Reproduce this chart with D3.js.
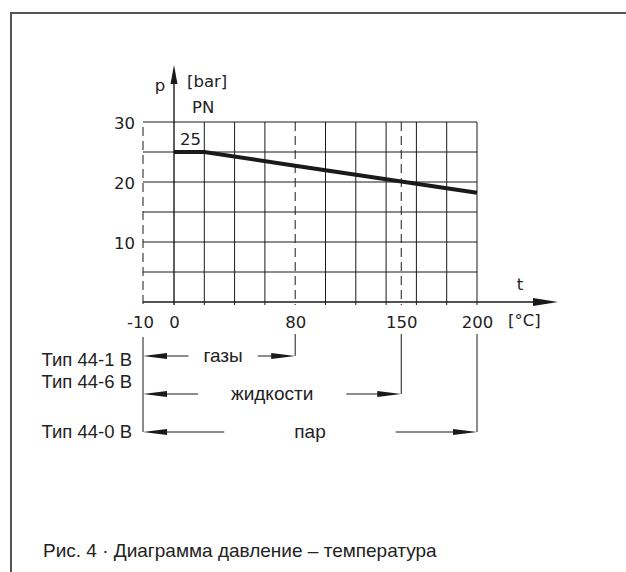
<!DOCTYPE html>
<html>
<head>
<meta charset="utf-8">
<script src="https://cdn.jsdelivr.net/npm/d3@7"></script>
<style>
  body { margin: 0; background: #fff; }
  svg { display: block; }
  .lbl { font-family: 'DejaVu Sans', sans-serif; font-size: 16.5px; fill: #222; }
  .txt { font-family: 'Liberation Sans', Arial, sans-serif; font-size: 19px; fill: #222; }
  .typ { font-size: 18.5px; }
</style>
</head>
<body>
<div id="svg_container"></div>
<script>
// data
const xTicks = [-10, 0, 80, 150, 200];
const yTicks = [10, 20, 30];
const gridT = [20, 40, 60, 100, 120, 140, 160, 180, 200];
const gridP = [5, 10, 15, 20, 25, 30];
const dashedT = [-10, 80, 150];
const curveT = [0, 20, 80, 150, 200];
const curveP = [25, 25, 22.7, 20.1, 18.2];
const rangeNames = ['газы', 'жидкости', 'пар'];
const rangeEnds = [80, 150, 200];
const typeLabels = ['Тип 44-1 B', 'Тип 44-6 B', 'Тип 44-0 B'];

const w = 626;
const h = 572;
const ink = '#1a1a1a';

// -10 is drawn one cell left of 0 (schematic, not to scale)
const xScale = d3.scaleLinear().domain([-10, 0, 200]).range([143, 174, 477]);
const yScale = d3.scaleLinear().domain([0, 30]).range([302, 122]);
const barY = d3.scalePoint().domain(rangeNames).range([356, 432]);
const labelY = [366, 388, 438];
const textPad = [15, 33, 70];

const svg = d3.select('#svg_container')
  .append('svg')
  .attr('width', w)
  .attr('height', h);

function arrowHead(g, x, y, dir, len, half) {
  // dir: 'right' | 'left' | 'up'
  let pts;
  if (dir === 'right') pts = [[x, y], [x - len, y - half], [x - len, y + half]];
  else if (dir === 'left') pts = [[x, y], [x + len, y - half], [x + len, y + half]];
  else pts = [[x, y], [x - half, y + len], [x + half, y + len]];
  g.append('path').attr('d', d3.line()(pts) + 'Z').attr('fill', ink);
}

function drawFrame() {
  svg.append('line').attr('x1', 10).attr('x2', w).attr('y1', 13).attr('y2', 13)
    .attr('stroke', '#555').attr('stroke-width', 2);
  svg.append('line').attr('x1', 11).attr('x2', 11).attr('y1', 13).attr('y2', h)
    .attr('stroke', '#555').attr('stroke-width', 2);
}

function drawGrid() {
  const g = svg.append('g');
  const y0 = yScale(0), yTop = yScale(30);

  g.selectAll('.hgrid').data(gridP).enter().append('line')
    .attr('x1', xScale(-10)).attr('x2', xScale(200))
    .attr('y1', d => yScale(d)).attr('y2', d => yScale(d))
    .attr('stroke', ink).attr('stroke-width', 1);

  g.selectAll('.vgrid').data(gridT).enter().append('line')
    .attr('x1', d => xScale(d)).attr('x2', d => xScale(d))
    .attr('y1', yTop).attr('y2', y0 + 3)
    .attr('stroke', ink).attr('stroke-width', 1);

  g.selectAll('.dgrid').data(dashedT).enter().append('line')
    .attr('x1', d => xScale(d)).attr('x2', d => xScale(d))
    .attr('y1', d => d === -10 ? yTop + 5 : yTop).attr('y2', y0 + 3)
    .attr('stroke', ink).attr('stroke-width', 1)
    .attr('stroke-dasharray', '9,5');
}

function drawAxes() {
  const g = svg.append('g');
  const y0 = yScale(0);

  // t axis with arrow
  g.append('line').attr('x1', xScale(-10)).attr('x2', 540).attr('y1', y0).attr('y2', y0)
    .attr('stroke', ink).attr('stroke-width', 1.4);
  arrowHead(g, 558, y0, 'right', 25, 4);

  // p axis with arrow
  g.append('line').attr('x1', xScale(0)).attr('x2', xScale(0)).attr('y1', y0 + 3).attr('y2', 80)
    .attr('stroke', ink).attr('stroke-width', 1.4);
  arrowHead(g, xScale(0), 65, 'up', 19, 3.5);

  const xa = svg.append('g')
    .attr('transform', `translate(0, ${y0})`)
    .call(d3.axisBottom(xScale).tickValues(xTicks).tickSize(0).tickPadding(10).tickFormat(d => String(d)));
  xa.select('.domain').remove();
  xa.selectAll('text').attr('class', 'lbl').attr('font-family', null).attr('font-size', null)
    .attr('dy', null).attr('y', 26).attr('dx', d => d === -10 ? -3 : 0);

  const ya = svg.append('g')
    .attr('transform', `translate(${xScale(-10)}, 0)`)
    .call(d3.axisLeft(yScale).tickValues(yTicks).tickSize(0).tickPadding(8));
  ya.select('.domain').remove();
  ya.selectAll('text').attr('class', 'lbl').attr('font-family', null).attr('font-size', null)
    .attr('dy', '0.4em');

  g.append('text').attr('class', 'lbl').attr('x', 160).attr('y', 91).attr('text-anchor', 'middle').text('p');
  g.append('text').attr('class', 'lbl').attr('x', 187).attr('y', 87).text('[bar]');
  g.append('text').attr('class', 'lbl').attr('x', 192).attr('y', 113).text('PN');
  g.append('text').attr('class', 'lbl').attr('x', 180).attr('y', 145).text('25');
  g.append('text').attr('class', 'lbl').attr('x', 520).attr('y', 290).attr('text-anchor', 'middle').text('t');
  g.append('text').attr('class', 'lbl').attr('x', 508).attr('y', 326).text('[°C]');
}

function drawCurve() {
  const pts = curveT.map((t, i) => [t, curveP[i]]);
  svg.append('path')
    .attr('d', d3.line().x(d => xScale(d[0])).y(d => yScale(d[1]))(pts))
    .attr('fill', 'none').attr('stroke', ink).attr('stroke-width', 4);
}

function drawRanges() {
  const g = svg.append('g');
  const x0 = xScale(-10);
  const top = 334;

  g.append('line').attr('x1', x0).attr('x2', x0).attr('y1', top + 3).attr('y2', barY('пар'))
    .attr('stroke', ink).attr('stroke-width', 1);

  rangeNames.forEach((name, i) => {
    const y = barY(name);
    const x1 = xScale(rangeEnds[i]);
    const cx = (x0 + x1) / 2 + (i === 0 ? 4 : 0);

    const t = g.append('text').attr('class', 'txt').attr('x', cx).attr('y', y + 6)
      .attr('text-anchor', 'middle').text(name);
    const half = t.node().getComputedTextLength() / 2 + textPad[i];

    g.append('line').attr('x1', x0 + 10).attr('x2', cx - half).attr('y1', y).attr('y2', y)
      .attr('stroke', ink).attr('stroke-width', 1);
    g.append('line').attr('x1', cx + half).attr('x2', x1 - 10).attr('y1', y).attr('y2', y)
      .attr('stroke', ink).attr('stroke-width', 1);
    arrowHead(g, x0, y, 'left', 24, 3);
    arrowHead(g, x1, y, 'right', 24, 3);

    g.append('line').attr('x1', x1).attr('x2', x1).attr('y1', top).attr('y2', y)
      .attr('stroke', ink).attr('stroke-width', 1);
  });

  g.selectAll('.typ').data(typeLabels).enter().append('text')
    .attr('class', 'txt typ')
    .attr('x', 132).attr('y', (d, i) => labelY[i])
    .attr('text-anchor', 'end')
    .text(d => d);
}

drawFrame();
drawGrid();
drawCurve();
drawAxes();
drawRanges();

svg.append('text').attr('class', 'txt').attr('x', 43).attr('y', 557)
  .text('Рис. 4 · Диаграмма давление – температура');
</script>
</body>
</html>
